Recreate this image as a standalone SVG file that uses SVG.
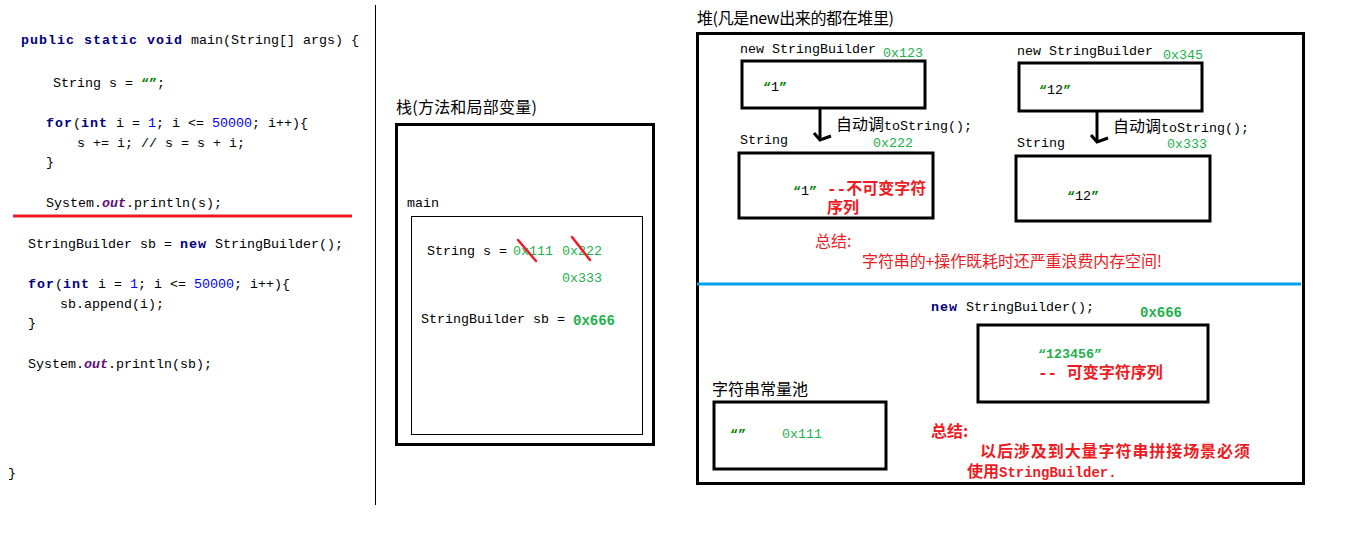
<svg xmlns="http://www.w3.org/2000/svg" width="1353" height="539" viewBox="0 0 1353 539">
<style>
text{font-family:"Liberation Mono","Noto Sans CJK SC",monospace;font-size:13.33px;fill:#000;white-space:pre}
.cjk{font-family:"Noto Sans CJK SC","Liberation Sans",sans-serif;font-size:16px}
.cjkm{font-family:"Liberation Mono","Noto Sans CJK SC",monospace;font-size:16px}
.kw{fill:#00007f;font-weight:bold;letter-spacing:1px}
.num{fill:#0000ff}
.out{fill:#660e7a;font-weight:bold;font-style:italic}
.q{fill:#008000;font-weight:bold}
.g{fill:#22b14c}
.gb{fill:#22b14c;font-weight:bold;font-size:14px}
.red{fill:#ed1c24}
.redb{fill:#ed1c24;font-weight:bold}
.box{fill:none;stroke:#000;stroke-width:3}
.thin{fill:none;stroke:#000;stroke-width:1}
.strike{stroke:#ed1c24;stroke-width:2.5;stroke-linecap:round}
.conn{stroke:#000;stroke-width:3;fill:none}
</style>
<defs>
<marker id="hd" viewBox="-14 -14 20 28" refX="0" refY="0" markerWidth="20" markerHeight="28" markerUnits="userSpaceOnUse" orient="auto" overflow="visible">
<path d="M-7,6 L0,0 L-4,-11" fill="none" stroke="#000" stroke-width="3"/>
</marker>
</defs>
<rect width="1353" height="539" fill="#fff"/>

<g id="code">
<text x="21" y="44"><tspan class="kw">public static void</tspan> main(String[] args) {</text>
<text x="53" y="87">String s = <tspan class="q">“”</tspan>;</text>
<text x="46" y="127"><tspan class="kw">for</tspan>(<tspan class="kw">int</tspan> i = <tspan class="num">1</tspan>; i &lt;= <tspan class="num">50000</tspan>; i++){</text>
<text x="77" y="147">s += i; // s = s + i;</text>
<text x="46" y="166">}</text>
<text x="46" y="207">System.<tspan class="out">out</tspan>.println(s);</text>
<line x1="13" y1="216" x2="352" y2="216" stroke="#ed1c24" stroke-width="3"/>
<text x="28" y="248">StringBuilder sb = <tspan class="kw">new</tspan> StringBuilder();</text>
<text x="28" y="288"><tspan class="kw">for</tspan>(<tspan class="kw">int</tspan> i = <tspan class="num">1</tspan>; i &lt;= <tspan class="num">50000</tspan>; i++){</text>
<text x="60" y="308">sb.append(i);</text>
<text x="28" y="327">}</text>
<text x="28" y="368">System.<tspan class="out">out</tspan>.println(sb);</text>
<text x="8" y="477">}</text>
<line x1="375.5" y1="5" x2="375.5" y2="505" stroke="#000" stroke-width="1"/>
</g>

<g id="stack">
<text class="cjk" x="396" y="113" textLength="141">栈(方法和局部变量)</text>
<rect class="box" x="396.5" y="124.5" width="257" height="320"/>
<text x="407" y="207">main</text>
<rect class="thin" x="411.5" y="216.5" width="231" height="218"/>
<text x="427" y="255">String s = </text>
<text class="g" x="513" y="255">0x111</text>
<text class="g" x="562" y="255">0x222</text>
<text class="g" x="562" y="282">0x333</text>
<line class="strike" x1="518" y1="240" x2="536" y2="261"/>
<line class="strike" x1="572" y1="237" x2="590" y2="260"/>
<text x="421" y="323">StringBuilder sb = </text>
<text class="gb" x="573" y="325">0x666</text>
</g>

<g id="heap">
<text class="cjk" x="697" y="24" textLength="197">堆(凡是new出来的都在堆里)</text>
<rect class="box" x="697.5" y="33.5" width="606" height="450"/>
<line x1="697" y1="284" x2="1301" y2="284" stroke="#00a2e8" stroke-width="3"/>
</g>

<g id="sb1">
<text x="740" y="53">new StringBuilder</text>
<text class="g" x="883" y="57">0x123</text>
<rect class="box" x="742" y="61" width="183" height="47"/>
<text x="763" y="91"><tspan class="q">“</tspan>1<tspan class="q">”</tspan></text>
</g>

<g id="str1">
<text x="740" y="144">String</text>
<text class="g" x="873" y="147">0x222</text>
<rect class="box" x="739" y="153" width="194" height="65"/>
<text x="793" y="195"><tspan class="q">“</tspan>1<tspan class="q">”</tspan></text>
<text class="redb cjkm" x="827" y="194">--不可变字符</text>
<text class="redb cjkm" x="827" y="213">序列</text>
</g>

<g id="sb2">
<text x="1017" y="55">new StringBuilder</text>
<text class="g" x="1163" y="59">0x345</text>
<rect class="box" x="1019" y="63" width="183" height="48"/>
<text x="1039" y="94"><tspan class="q">“</tspan>12<tspan class="q">”</tspan></text>
</g>

<g id="str2">
<text x="1017" y="147">String</text>
<text class="g" x="1167" y="148">0x333</text>
<rect class="box" x="1016" y="156" width="194" height="65"/>
<text x="1067" y="200"><tspan class="q">“</tspan>12<tspan class="q">”</tspan></text>
</g>

<g id="summary1">
<text class="red cjk" x="815" y="247">总结:</text>
<text class="red cjk" x="862" y="267" textLength="300">字符串的+操作既耗时还严重浪费内存空间!</text>
</g>

<g id="sb3">
<text x="931" y="311"><tspan class="kw">new</tspan> StringBuilder();</text>
<text class="gb" x="1140" y="317">0x666</text>
<rect class="box" x="978" y="325" width="230" height="77"/>
<text class="g" font-weight="bold" font-size="14.5px" x="1038" y="358">“123456”</text>
<text class="redb cjkm" x="1038" y="378">-- 可变字符序列</text>
</g>

<g id="pool">
<text class="cjk" x="712" y="395">字符串常量池</text>
<rect class="box" x="714" y="402" width="172" height="67"/>
<text class="q" x="730" y="438">“”</text>
<text class="g" x="782" y="438">0x111</text>
</g>

<g id="summary2">
<text class="redb cjk" x="931" y="437">总结:</text>
<text class="redb cjk" x="980" y="457" textLength="270">以后涉及到大量字符串拼接场景必须</text>
<text class="redb cjk" x="967" y="477">使用<tspan font-family="Liberation Mono,monospace" font-size="14px">StringBuilder.</tspan></text>
</g>

<g id="connectors">
<line class="conn" x1="820" y1="109" x2="820" y2="140" marker-end="url(#hd)"/>
<text x="836" y="130"><tspan class="cjk">自动调</tspan>toString();</text>
<line class="conn" x1="1097" y1="112" x2="1097" y2="142" marker-end="url(#hd)"/>
<text x="1113" y="132"><tspan class="cjk">自动调</tspan>toString();</text>
</g>
</svg>
